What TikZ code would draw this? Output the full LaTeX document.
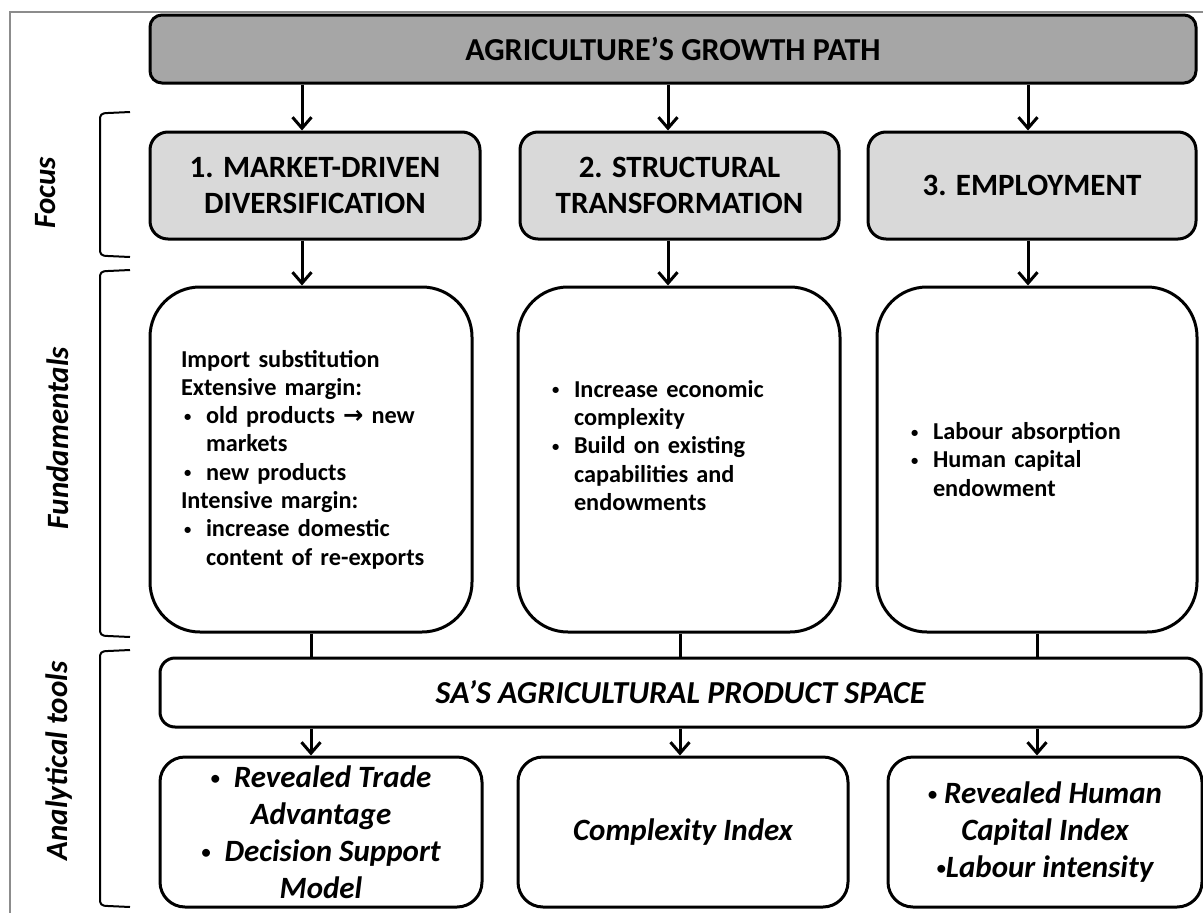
\documentclass[tikz,border=0pt]{standalone}
\usepackage{fontspec}
\usepackage{graphicx}
\setmainfont{Carlito}
\newfontfamily\arrowfont{DejaVu Sans}
\usetikzlibrary{arrows.meta}
\definecolor{growthgray}{HTML}{A6A6A6}
\definecolor{focusgray}{HTML}{D9D9D9}
\definecolor{framegray}{HTML}{8C8C8C}
\newcommand\smalldot{\raisebox{0.2ex}{\scalebox{0.6}{\textbullet}}}
\newcommand\bul{\hspace*{3pt}\makebox[22pt][l]{\smalldot}}
\newcommand\ind{\hspace*{25pt}}
\begin{document}
\begin{tikzpicture}[x=1pt,y=-1pt,
  box/.style={draw,line width=3pt,inner sep=0pt},
  growthbox/.style={box,fill=growthgray,rounded corners=12pt,
    font=\fontsize{32}{38}\selectfont\bfseries},
  focusbox/.style={box,fill=focusgray,rounded corners=18pt,align=center,
    minimum height=107pt,font=\fontsize{31}{36}\selectfont\bfseries},
  fundbox/.style={box,rounded corners=50pt,align=left,minimum height=345pt,
    font=\fontsize{24.3}{28.3}\selectfont\bfseries},
  spacebox/.style={box,rounded corners=15pt,
    font=\fontsize{32}{38}\selectfont\bfseries\itshape},
  toolbox/.style={box,rounded corners=25pt,align=center,minimum height=150pt,
    font=\fontsize{31}{37}\selectfont\bfseries\itshape},
  side/.style={rotate=90,anchor=base,font=\fontsize{31}{37}\selectfont\bfseries\itshape},
  arr/.style={line width=3pt,-{Straight Barb[length=11pt,width=19pt]}},
  link/.style={line width=3pt},
  bracket/.style={line width=2pt}]%
% columns in pixels of the 1203 x 913 frame, y grows downwards
\useasboundingbox (0,0) rectangle (1203,913);
\draw[framegray,line width=2pt] (1203,12) -- (10,12) -- (10,913);
\node[growthbox,minimum width=1046pt,minimum height=68pt] (growth) at (673,49)
  {AGRICULTURE’S GROWTH PATH};
\node[focusbox,minimum width=330pt] (mkt) at (315,185.5)
  {1. MARKET-DRIVEN\\DIVERSIFICATION};
\node[focusbox,minimum width=319pt] (struct) at (679.5,185.5)
  {2. STRUCTURAL\\TRANSFORMATION};
\node[focusbox,minimum width=328pt] (emp) at (1032,185.5)
  {3. EMPLOYMENT};
\node[fundbox,minimum width=322pt,text width=260pt] (fmkt) at (311,459.5)
  {Import substitution\\
   Extensive margin:\\
   \bul old products {\arrowfont→} new\\
   \ind markets\\
   \bul new products\\
   Intensive margin:\\
   \bul increase domestic\\
   \ind content of re-exports};
\node[fundbox,minimum width=322pt,text width=260pt] (fstruct) at (679,459.5)
  {\bul Increase economic\\
   \ind complexity\\
   \bul Build on existing\\
   \ind capabilities and\\
   \ind endowments\\
   \mbox{}};
\node[fundbox,minimum width=320pt,text width=258pt] (femp) at (1037,459.5)
  {\bul Labour absorption\\
   \bul Human capital\\
   \ind endowment};
\node[spacebox,minimum width=1041pt,minimum height=69pt] (space) at (680.5,692.5)
  {SA’S AGRICULTURAL PRODUCT SPACE};
\node[toolbox,minimum width=322pt] (tmkt) at (321,832)
  {\smalldot~~Revealed Trade\\Advantage\\\smalldot~~Decision Support\\Model};
\node[toolbox,minimum width=330pt] (tstruct) at (683,832)
  {Complexity Index};
\node[toolbox,minimum width=314pt] (temp) at (1045,832)
  {\smalldot~Revealed Human\\Capital Index\\\smalldot Labour intensity};
\node[side] (lfocus) at (55,193) {Focus};
\node[side] (lfund) at (68,438) {Fundamentals};
\node[side] (ltools) at (67,761) {Analytical tools};
\draw[bracket] (130,112) -- (108,113) .. controls (101,113) and (100,115) .. (100,120)
  -- (100,249) .. controls (100,254) and (101,256) .. (108,256) -- (130,257);
\draw[bracket] (130,270) -- (108,271) .. controls (101,271) and (100,273) .. (100,278)
  -- (100,629) .. controls (100,634) and (101,636) .. (108,636) -- (130,637);
\draw[bracket] (130,650) -- (108,651) .. controls (101,651) and (100,653) .. (100,658)
  -- (100,899) .. controls (100,904) and (101,906) .. (108,906) -- (130,907);
\coordinate (a1) at (302,0);
\coordinate (a2) at (668,0);
\coordinate (a3) at (1028,0);
\coordinate (b1) at (311,0);
\coordinate (b2) at (680,0);
\coordinate (b3) at (1037,0);
\draw[arr] (growth.south -| a1) -- (mkt.north -| a1);
\draw[arr] (growth.south -| a2) -- (struct.north -| a2);
\draw[arr] (growth.south -| a3) -- (emp.north -| a3);
\draw[arr] (mkt.south -| a1) -- (fmkt.north -| a1);
\draw[arr] (struct.south -| a2) -- (fstruct.north -| a2);
\draw[arr] (emp.south -| a3) -- (femp.north -| a3);
\draw[link] (fmkt.south -| b1) -- (space.north -| b1);
\draw[link] (fstruct.south -| b2) -- (space.north -| b2);
\draw[link] (femp.south -| b3) -- (space.north -| b3);
\draw[arr] (space.south -| b1) -- (tmkt.north -| b1);
\draw[arr] (space.south -| b2) -- (tstruct.north -| b2);
\draw[arr] (space.south -| b3) -- (temp.north -| b3);
\end{tikzpicture}
\end{document}
